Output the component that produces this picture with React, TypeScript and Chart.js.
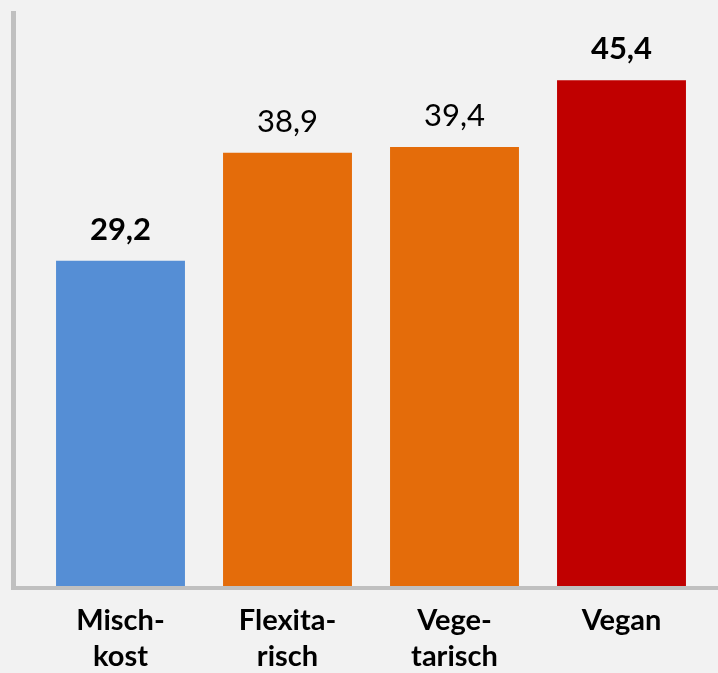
import React, { useEffect, useRef } from "react";
import { Chart, registerables } from "chart.js";

Chart.register(...registerables);

const categories: string[][] = [["Misch-", "kost"], ["Flexita-", "risch"], ["Vege-", "tarisch"], ["Vegan"]];
const values: number[] = [29.2, 38.9, 39.4, 45.4];
const valueLabels: string[] = ["29,2", "38,9", "39,4", "45,4"];
const boldLabels: boolean[] = [true, false, false, true];
const barColors: string[] = ["#558ed5", "#e46c0a", "#e46c0a", "#c00000"];

const FONT = "Lato, 'Open Sans', sans-serif";

const axisLines = {
  id: "axisLines",
  beforeDatasetsDraw(chart: any) {
    const { ctx, chartArea } = chart;
    ctx.save();
    ctx.fillStyle = "#c0c0c0";
    const left = chartArea.left - 26;
    ctx.fillRect(left, 11, 5, chartArea.bottom + 4 - 11);
    ctx.fillRect(left, chartArea.bottom, chart.width - left, 4);
    ctx.restore();
  },
};

const valueLabelPlugin = {
  id: "valueLabels",
  afterDatasetsDraw(chart: any) {
    const { ctx } = chart;
    const meta = chart.getDatasetMeta(0);
    ctx.save();
    ctx.fillStyle = "#000000";
    ctx.textAlign = "center";
    ctx.textBaseline = "alphabetic";
    meta.data.forEach((bar: any, i: number) => {
      ctx.font = `${boldLabels[i] ? "bold " : ""}31px ${FONT}`;
      ctx.fillText(valueLabels[i], bar.x, bar.y - 21);
    });
    ctx.restore();
  },
};

export default function App() {
  const ref = useRef<HTMLCanvasElement>(null);
  useEffect(() => {
    document.body.style.margin = "0";
    document.body.style.background = "#f2f2f2";
    const chart = new Chart(ref.current!, {
      type: "bar",
      data: {
        labels: categories,
        datasets: [
          {
            data: values,
            backgroundColor: barColors,
            categoryPercentage: 1,
            barPercentage: 0.772,
          },
        ],
      },
      options: {
        responsive: false,
        animation: false,
        layout: { padding: { left: 37, right: 13, top: 0, bottom: 0 } },
        plugins: { legend: { display: false }, tooltip: { enabled: false } },
        scales: {
          x: {
            grid: { display: false, drawTicks: false },
            border: { display: false },
            afterFit(scale: any) {
              scale.height = 87;
            },
            ticks: {
              color: "#000000",
              font: { family: FONT, size: 29, weight: "bold", lineHeight: 1.24 },
              padding: 17,
              maxRotation: 0,
              autoSkip: false,
            },
          },
          y: {
            display: false,
            min: 0,
            max: 52.6,
          },
        },
      },
      plugins: [axisLines, valueLabelPlugin],
    });
    return () => chart.destroy();
  }, []);
  return (
    <div style={{ width: 718, height: 673, background: "#f2f2f2" }}>
      <canvas ref={ref} width={718} height={673} style={{ display: "block" }} />
    </div>
  );
}
